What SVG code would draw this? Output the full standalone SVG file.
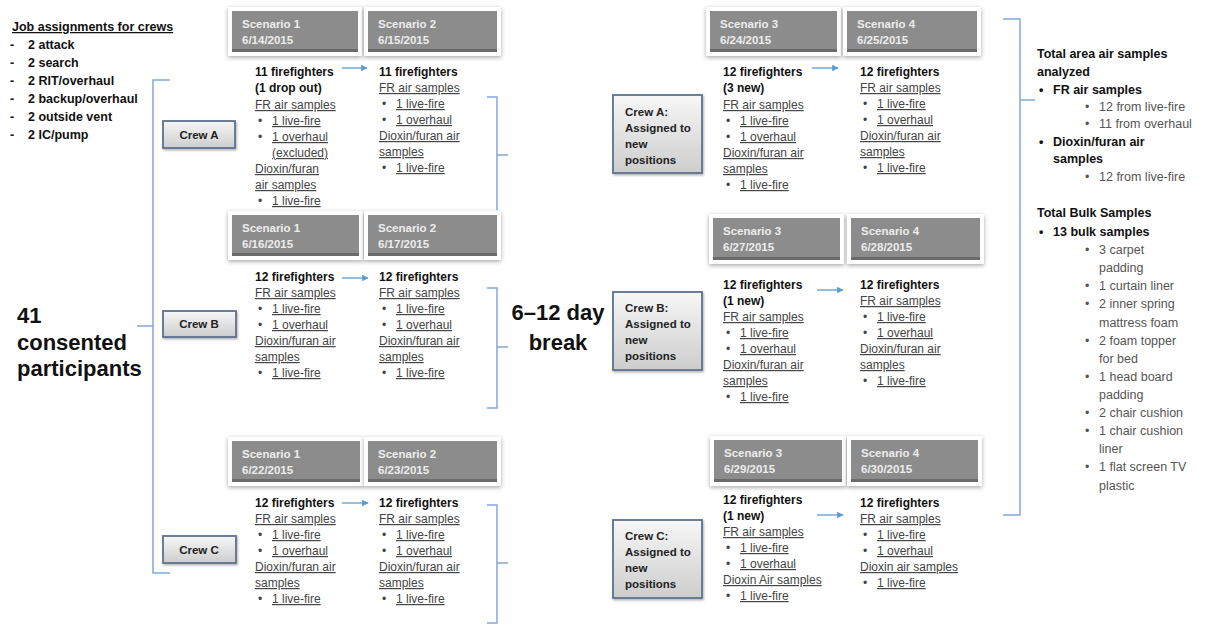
<svg xmlns="http://www.w3.org/2000/svg" width="1210" height="629" viewBox="0 0 1210 629">
<style>
text{font-family:"Liberation Sans",Arial,sans-serif;}
.b{font-size:12px;font-weight:bold;fill:#111}
.u{font-size:12px;fill:#444;text-decoration:underline}
.d{font-size:12px;fill:#444}
.h{font-size:11.5px;font-weight:bold;fill:#ececec}
.cb{font-size:11.5px;font-weight:bold;fill:#222}
.jt{font-size:12.5px;font-weight:bold;fill:#111}
.big{font-size:22px;font-weight:bold;fill:#111}
.rb{font-size:12.5px;font-weight:bold;fill:#111}
.rs{font-size:12.5px;fill:#555}
.br{fill:none;stroke:#7fa9d9;stroke-width:1.5}
.ar{fill:none;stroke:#5b9bd5;stroke-width:1.3;marker-end:url(#ah)}
.hf{fill:#fff;filter:url(#sh)}
.hi{fill:#8c8c8c}
.hb{stroke:#6a6a6a;stroke-width:3}
.crew{fill:url(#cg);stroke:#5d7290;stroke-width:1.8;filter:url(#sh2)}
</style>
<defs>
<marker id="ah" viewBox="0 0 10 10" refX="9" refY="5" markerWidth="5" markerHeight="5" orient="auto"><path d="M0,0 L10,5 L0,10 z" fill="#5b9bd5"/></marker>
<filter id="sh" x="-10%" y="-20%" width="120%" height="150%"><feDropShadow dx="0" dy="1.5" stdDeviation="2" flood-color="#000" flood-opacity="0.35"/></filter>
<filter id="sh2" x="-10%" y="-20%" width="130%" height="150%"><feDropShadow dx="1" dy="1.5" stdDeviation="1" flood-color="#000" flood-opacity="0.3"/></filter>
<linearGradient id="cg" x1="0" y1="0" x2="0" y2="1"><stop offset="0" stop-color="#f7f7f7"/><stop offset="1" stop-color="#cdcdcd"/></linearGradient>
</defs>
<rect width="1210" height="629" fill="#fff"/>

<g id="connectors">
<path class="br" d="M170,80 H153 V573 H170 M153,326 H137"/>
<path class="br" d="M487,97 H497 V210 M497,155 H508"/>
<path class="br" d="M487,288 H497 V408 H487 M497,347 H508"/>
<path class="br" d="M487,505 H497 V623 H487 M497,563 H508"/>
<path class="br" d="M1003,19 H1020 V515 H1003 M1020,100 H1035"/>
<line class="ar" x1="342" y1="68" x2="367" y2="68"/>
<line class="ar" x1="342" y1="278" x2="368" y2="278"/>
<line class="ar" x1="342" y1="503" x2="368" y2="503"/>
<line class="ar" x1="812" y1="68" x2="838" y2="68"/>
<line class="ar" x1="817" y1="290" x2="843" y2="290"/>
<line class="ar" x1="817" y1="515" x2="843" y2="515"/>
</g>

<g id="job-assignments">
<text class="jt" x="12" y="31" text-decoration="underline">Job assignments for crews</text>
<text class="jt" x="10" y="49">-</text><text class="jt" x="28" y="49">2 attack</text>
<text class="jt" x="10" y="67">-</text><text class="jt" x="28" y="67">2 search</text>
<text class="jt" x="10" y="85">-</text><text class="jt" x="28" y="85">2 RIT/overhaul</text>
<text class="jt" x="10" y="103">-</text><text class="jt" x="28" y="103">2 backup/overhaul</text>
<text class="jt" x="10" y="121">-</text><text class="jt" x="28" y="121">2 outside vent</text>
<text class="jt" x="10" y="139">-</text><text class="jt" x="28" y="139">2 IC/pump</text>
</g>

<g id="participants">
<text class="big" x="17" y="323">41</text>
<text class="big" x="17" y="350">consented</text>
<text class="big" x="17" y="376">participants</text>
</g>

<g id="break">
<text class="big" x="558" y="320" text-anchor="middle">6–12 day</text>
<text class="big" x="558" y="350" text-anchor="middle">break</text>
</g>

<g id="crew-a"><rect class="crew" x="163" y="121" width="72" height="27"/><text class="cb" x="199" y="139" text-anchor="middle">Crew A</text></g>
<g id="crew-b"><rect class="crew" x="163" y="311" width="73" height="26"/><text class="cb" x="199" y="328" text-anchor="middle">Crew B</text></g>
<g id="crew-c"><rect class="crew" x="163" y="536" width="73" height="27"/><text class="cb" x="199" y="554" text-anchor="middle">Crew C</text></g>

<g id="crew-a-new"><rect class="crew" x="613" y="95" width="89" height="78"/>
<text class="cb" x="625" y="116">Crew A:</text><text class="cb" x="625" y="132">Assigned to</text><text class="cb" x="625" y="148">new</text><text class="cb" x="625" y="164">positions</text></g>
<g id="crew-b-new"><rect class="crew" x="613" y="292" width="89" height="78"/>
<text class="cb" x="625" y="312">Crew B:</text><text class="cb" x="625" y="328">Assigned to</text><text class="cb" x="625" y="344">new</text><text class="cb" x="625" y="360">positions</text></g>
<g id="crew-c-new"><rect class="crew" x="613" y="520" width="89" height="78"/>
<text class="cb" x="625" y="540">Crew C:</text><text class="cb" x="625" y="556">Assigned to</text><text class="cb" x="625" y="572">new</text><text class="cb" x="625" y="588">positions</text></g>

<!-- headers -->
<g id="h-a1"><rect class="hf" x="228" y="7" width="134" height="49"/><rect class="hi" x="232" y="11" width="126" height="41"/><line class="hb" x1="232" y1="50.5" x2="358" y2="50.5"/><text class="h" x="242" y="28">Scenario 1</text><text class="h" x="242" y="44">6/14/2015</text></g>
<g id="h-a2"><rect class="hf" x="364" y="7" width="137" height="49"/><rect class="hi" x="368" y="11" width="129" height="41"/><line class="hb" x1="368" y1="50.5" x2="497" y2="50.5"/><text class="h" x="378" y="28">Scenario 2</text><text class="h" x="378" y="44">6/15/2015</text></g>
<g id="h-b1"><rect class="hf" x="228" y="211" width="135" height="49"/><rect class="hi" x="232" y="215" width="127" height="41"/><line class="hb" x1="232" y1="254.5" x2="359" y2="254.5"/><text class="h" x="242" y="232">Scenario 1</text><text class="h" x="242" y="248">6/16/2015</text></g>
<g id="h-b2"><rect class="hf" x="364" y="211" width="137" height="49"/><rect class="hi" x="368" y="215" width="129" height="41"/><line class="hb" x1="368" y1="254.5" x2="497" y2="254.5"/><text class="h" x="378" y="232">Scenario 2</text><text class="h" x="378" y="248">6/17/2015</text></g>
<g id="h-c1"><rect class="hf" x="228" y="437" width="136" height="49"/><rect class="hi" x="232" y="441" width="128" height="41"/><line class="hb" x1="232" y1="480.5" x2="360" y2="480.5"/><text class="h" x="242" y="458">Scenario 1</text><text class="h" x="242" y="474">6/22/2015</text></g>
<g id="h-c2"><rect class="hf" x="364" y="437" width="137" height="49"/><rect class="hi" x="368" y="441" width="129" height="41"/><line class="hb" x1="368" y1="480.5" x2="497" y2="480.5"/><text class="h" x="378" y="458">Scenario 2</text><text class="h" x="378" y="474">6/23/2015</text></g>
<g id="h-a3"><rect class="hf" x="706" y="7" width="135" height="49"/><rect class="hi" x="710" y="11" width="127" height="41"/><line class="hb" x1="710" y1="50.5" x2="837" y2="50.5"/><text class="h" x="720" y="28">Scenario 3</text><text class="h" x="720" y="44">6/24/2015</text></g>
<g id="h-a4"><rect class="hf" x="843" y="7" width="138" height="49"/><rect class="hi" x="847" y="11" width="130" height="41"/><line class="hb" x1="847" y1="50.5" x2="977" y2="50.5"/><text class="h" x="857" y="28">Scenario 4</text><text class="h" x="857" y="44">6/25/2015</text></g>
<g id="h-b3"><rect class="hf" x="709" y="214" width="135" height="50"/><rect class="hi" x="713" y="218" width="127" height="42"/><line class="hb" x1="713" y1="258.5" x2="840" y2="258.5"/><text class="h" x="723" y="235">Scenario 3</text><text class="h" x="723" y="251">6/27/2015</text></g>
<g id="h-b4"><rect class="hf" x="847" y="214" width="137" height="50"/><rect class="hi" x="851" y="218" width="129" height="42"/><line class="hb" x1="851" y1="258.5" x2="980" y2="258.5"/><text class="h" x="861" y="235">Scenario 4</text><text class="h" x="861" y="251">6/28/2015</text></g>
<g id="h-c3"><rect class="hf" x="710" y="436" width="136" height="50"/><rect class="hi" x="714" y="440" width="128" height="42"/><line class="hb" x1="714" y1="480.5" x2="842" y2="480.5"/><text class="h" x="724" y="457">Scenario 3</text><text class="h" x="724" y="473">6/29/2015</text></g>
<g id="h-c4"><rect class="hf" x="847" y="436" width="135" height="50"/><rect class="hi" x="851" y="440" width="127" height="42"/><line class="hb" x1="851" y1="480.5" x2="978" y2="480.5"/><text class="h" x="861" y="457">Scenario 4</text><text class="h" x="861" y="473">6/30/2015</text></g>

<!-- sample blocks -->
<g id="s-a1">
<text class="b" x="255" y="76">11 firefighters</text>
<text class="b" x="255" y="92">(1 drop out)</text>
<text class="u" x="255" y="109">FR air samples</text>
<text class="d" x="258" y="125">•</text><text class="u" x="272" y="125">1 live-fire</text>
<text class="d" x="258" y="141">•</text><text class="u" x="272" y="141">1 overhaul</text>
<text class="u" x="272" y="157">(excluded)</text>
<text class="u" x="255" y="173">Dioxin/furan</text>
<text class="u" x="255" y="189">air samples</text>
<text class="d" x="258" y="205">•</text><text class="u" x="272" y="205">1 live-fire</text>
</g>
<g id="s-a2">
<text class="b" x="379" y="76">11 firefighters</text>
<text class="u" x="379" y="92">FR air samples</text>
<text class="d" x="382" y="108">•</text><text class="u" x="396" y="108">1 live-fire</text>
<text class="d" x="382" y="124">•</text><text class="u" x="396" y="124">1 overhaul</text>
<text class="u" x="379" y="140">Dioxin/furan air</text>
<text class="u" x="379" y="156">samples</text>
<text class="d" x="382" y="172">•</text><text class="u" x="396" y="172">1 live-fire</text>
</g>
<g id="s-b1">
<text class="b" x="255" y="281">12 firefighters</text>
<text class="u" x="255" y="297">FR air samples</text>
<text class="d" x="258" y="313">•</text><text class="u" x="272" y="313">1 live-fire</text>
<text class="d" x="258" y="329">•</text><text class="u" x="272" y="329">1 overhaul</text>
<text class="u" x="255" y="345">Dioxin/furan air</text>
<text class="u" x="255" y="361">samples</text>
<text class="d" x="258" y="377">•</text><text class="u" x="272" y="377">1 live-fire</text>
</g>
<g id="s-b2">
<text class="b" x="379" y="281">12 firefighters</text>
<text class="u" x="379" y="297">FR air samples</text>
<text class="d" x="382" y="313">•</text><text class="u" x="396" y="313">1 live-fire</text>
<text class="d" x="382" y="329">•</text><text class="u" x="396" y="329">1 overhaul</text>
<text class="u" x="379" y="345">Dioxin/furan air</text>
<text class="u" x="379" y="361">samples</text>
<text class="d" x="382" y="377">•</text><text class="u" x="396" y="377">1 live-fire</text>
</g>
<g id="s-c1">
<text class="b" x="255" y="507">12 firefighters</text>
<text class="u" x="255" y="523">FR air samples</text>
<text class="d" x="258" y="539">•</text><text class="u" x="272" y="539">1 live-fire</text>
<text class="d" x="258" y="555">•</text><text class="u" x="272" y="555">1 overhaul</text>
<text class="u" x="255" y="571">Dioxin/furan air</text>
<text class="u" x="255" y="587">samples</text>
<text class="d" x="258" y="603">•</text><text class="u" x="272" y="603">1 live-fire</text>
</g>
<g id="s-c2">
<text class="b" x="379" y="507">12 firefighters</text>
<text class="u" x="379" y="523">FR air samples</text>
<text class="d" x="382" y="539">•</text><text class="u" x="396" y="539">1 live-fire</text>
<text class="d" x="382" y="555">•</text><text class="u" x="396" y="555">1 overhaul</text>
<text class="u" x="379" y="571">Dioxin/furan air</text>
<text class="u" x="379" y="587">samples</text>
<text class="d" x="382" y="603">•</text><text class="u" x="396" y="603">1 live-fire</text>
</g>
<g id="s-a3">
<text class="b" x="723" y="76">12 firefighters</text>
<text class="b" x="723" y="92">(3 new)</text>
<text class="u" x="723" y="109">FR air samples</text>
<text class="d" x="726" y="125">•</text><text class="u" x="740" y="125">1 live-fire</text>
<text class="d" x="726" y="141">•</text><text class="u" x="740" y="141">1 overhaul</text>
<text class="u" x="723" y="157">Dioxin/furan air</text>
<text class="u" x="723" y="173">samples</text>
<text class="d" x="726" y="189">•</text><text class="u" x="740" y="189">1 live-fire</text>
</g>
<g id="s-a4">
<text class="b" x="860" y="76">12 firefighters</text>
<text class="u" x="860" y="92">FR air samples</text>
<text class="d" x="863" y="108">•</text><text class="u" x="877" y="108">1 live-fire</text>
<text class="d" x="863" y="124">•</text><text class="u" x="877" y="124">1 overhaul</text>
<text class="u" x="860" y="140">Dioxin/furan air</text>
<text class="u" x="860" y="156">samples</text>
<text class="d" x="863" y="172">•</text><text class="u" x="877" y="172">1 live-fire</text>
</g>
<g id="s-b3">
<text class="b" x="723" y="289">12 firefighters</text>
<text class="b" x="723" y="305">(1 new)</text>
<text class="u" x="723" y="321">FR air samples</text>
<text class="d" x="726" y="337">•</text><text class="u" x="740" y="337">1 live-fire</text>
<text class="d" x="726" y="353">•</text><text class="u" x="740" y="353">1 overhaul</text>
<text class="u" x="723" y="369">Dioxin/furan air</text>
<text class="u" x="723" y="385">samples</text>
<text class="d" x="726" y="401">•</text><text class="u" x="740" y="401">1 live-fire</text>
</g>
<g id="s-b4">
<text class="b" x="860" y="289">12 firefighters</text>
<text class="u" x="860" y="305">FR air samples</text>
<text class="d" x="863" y="321">•</text><text class="u" x="877" y="321">1 live-fire</text>
<text class="d" x="863" y="337">•</text><text class="u" x="877" y="337">1 overhaul</text>
<text class="u" x="860" y="353">Dioxin/furan air</text>
<text class="u" x="860" y="369">samples</text>
<text class="d" x="863" y="385">•</text><text class="u" x="877" y="385">1 live-fire</text>
</g>
<g id="s-c3">
<text class="b" x="723" y="504">12 firefighters</text>
<text class="b" x="723" y="520">(1 new)</text>
<text class="u" x="723" y="536">FR air samples</text>
<text class="d" x="726" y="552">•</text><text class="u" x="740" y="552">1 live-fire</text>
<text class="d" x="726" y="568">•</text><text class="u" x="740" y="568">1 overhaul</text>
<text class="u" x="723" y="584">Dioxin Air samples</text>
<text class="d" x="726" y="600">•</text><text class="u" x="740" y="600">1 live-fire</text>
</g>
<g id="s-c4">
<text class="b" x="860" y="507">12 firefighters</text>
<text class="u" x="860" y="523">FR air samples</text>
<text class="d" x="863" y="539">•</text><text class="u" x="877" y="539">1 live-fire</text>
<text class="d" x="863" y="555">•</text><text class="u" x="877" y="555">1 overhaul</text>
<text class="u" x="860" y="571">Dioxin air samples</text>
<text class="d" x="863" y="587">•</text><text class="u" x="877" y="587">1 live-fire</text>
</g>

<g id="totals">
<text class="rb" x="1037" y="58">Total area air samples</text>
<text class="rb" x="1037" y="76">analyzed</text>
<text class="rb" x="1039" y="94">•</text><text class="rb" x="1053" y="94">FR air samples</text>
<text class="rs" x="1085" y="111">•</text><text class="rs" x="1099" y="111">12 from live-fire</text>
<text class="rs" x="1085" y="128">•</text><text class="rs" x="1099" y="128">11 from overhaul</text>
<text class="rb" x="1039" y="146">•</text><text class="rb" x="1053" y="146">Dioxin/furan air</text>
<text class="rb" x="1053" y="163">samples</text>
<text class="rs" x="1085" y="181">•</text><text class="rs" x="1099" y="181">12 from live-fire</text>
<text class="rb" x="1037" y="217">Total Bulk Samples</text>
<text class="rb" x="1039" y="236">•</text><text class="rb" x="1053" y="236">13 bulk samples</text>
<text class="rs" x="1085" y="254">•</text><text class="rs" x="1099" y="254">3 carpet</text>
<text class="rs" x="1099" y="272">padding</text>
<text class="rs" x="1085" y="290">•</text><text class="rs" x="1099" y="290">1 curtain liner</text>
<text class="rs" x="1085" y="308">•</text><text class="rs" x="1099" y="308">2 inner spring</text>
<text class="rs" x="1099" y="327">mattress foam</text>
<text class="rs" x="1085" y="345">•</text><text class="rs" x="1099" y="345">2 foam topper</text>
<text class="rs" x="1099" y="363">for bed</text>
<text class="rs" x="1085" y="381">•</text><text class="rs" x="1099" y="381">1 head board</text>
<text class="rs" x="1099" y="399">padding</text>
<text class="rs" x="1085" y="417">•</text><text class="rs" x="1099" y="417">2 chair cushion</text>
<text class="rs" x="1085" y="435">•</text><text class="rs" x="1099" y="435">1 chair cushion</text>
<text class="rs" x="1099" y="453">liner</text>
<text class="rs" x="1085" y="471">•</text><text class="rs" x="1099" y="471">1 flat screen TV</text>
<text class="rs" x="1099" y="490">plastic</text>
</g>
</svg>
